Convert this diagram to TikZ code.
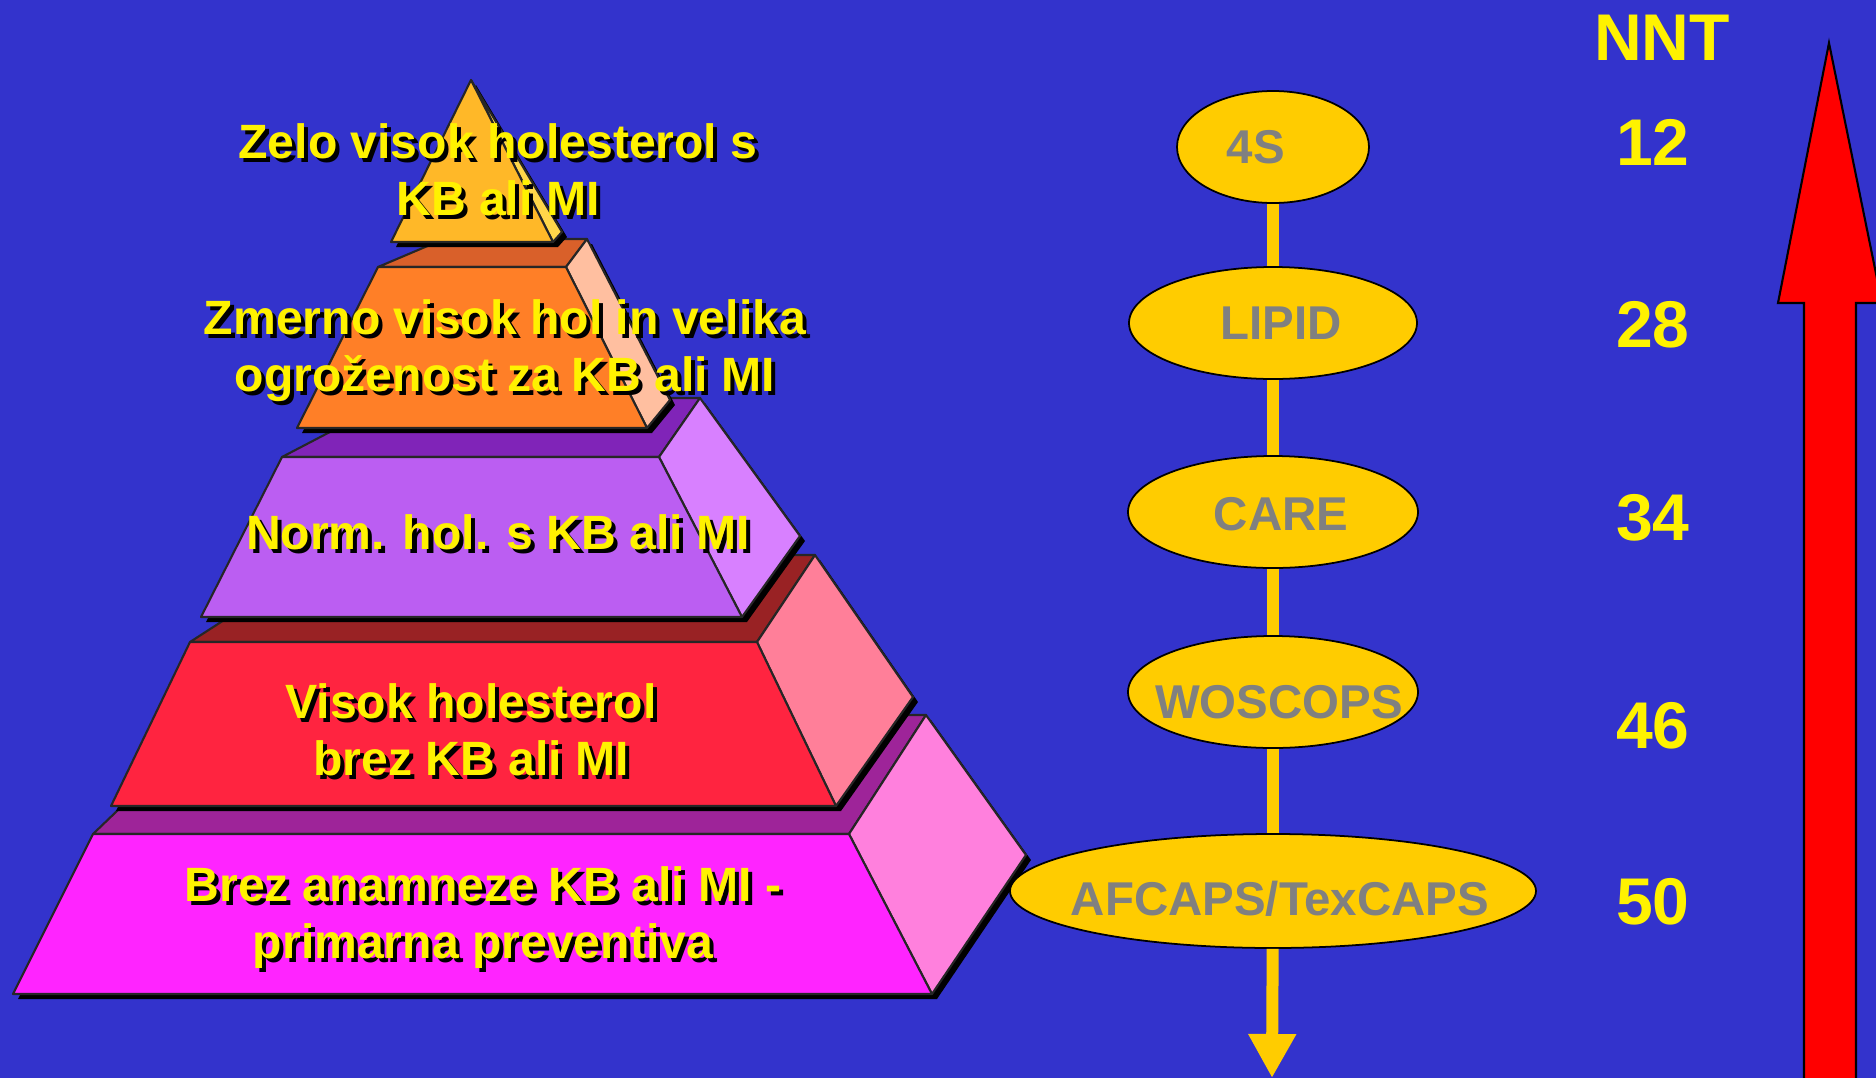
\documentclass[tikz,border=0pt]{standalone}
\usepackage{fontspec}
\setmainfont{Liberation Sans}
\usetikzlibrary{shapes.geometric,arrows.meta}

\definecolor{bgblue}{RGB}{51,51,204}
\definecolor{lonefront}{RGB}{255,184,40}
\definecolor{loneside}{RGB}{255,214,74}
\definecolor{ltwotop}{RGB}{217,96,42}
\definecolor{ltwofront}{RGB}{255,127,39}
\definecolor{ltwoside}{RGB}{255,191,160}
\definecolor{lthreetop}{RGB}{128,36,184}
\definecolor{lthreefront}{RGB}{187,94,242}
\definecolor{lthreeside}{RGB}{216,128,255}
\definecolor{lfourtop}{RGB}{153,34,36}
\definecolor{lfourfront}{RGB}{255,36,64}
\definecolor{lfourside}{RGB}{255,127,153}
\definecolor{lfivetop}{RGB}{158,36,153}
\definecolor{lfivefront}{RGB}{255,36,255}
\definecolor{lfiveside}{RGB}{255,128,221}
\definecolor{studyyellow}{RGB}{255,204,0}
\definecolor{studygray}{RGB}{128,128,128}

\begin{document}
\begin{tikzpicture}[
    x=0.1mm, y=-0.1mm,
    face/.style={draw=black!85, line width=0.6pt, line join=round},
    drop/.style={fill=black, shift={(5,5)}},
    lbl/.style={text=yellow, font=\bfseries\fontsize{13.7}{16.2}\selectfont, align=center},
    lblshadow/.style={lbl, text=black, xshift=0.4mm, yshift=-0.4mm},
    study/.style={ellipse, draw=black, line width=0.5pt, fill=studyyellow, inner sep=0pt, minimum height=11.2mm},
    studytext/.style={text=studygray, font=\bfseries\fontsize{13.5}{16}\selectfont},
    nnt/.style={text=yellow, font=\bfseries\fontsize{18.8}{22}\selectfont},
    link/.style={draw=studyyellow, line width=1.2mm}
]
\fill[bgblue] (0,0) rectangle (1876,1078);
\useasboundingbox (0,0) rectangle (1876,1078);

% pyramid, bottom layer first
\fill[drop] (13,994) -- (93,834) -- (217,715) -- (926,715) -- (1026,855) -- (932,994) -- cycle;
\filldraw[face, fill=lfivetop] (93,834) -- (217,715) -- (926,715) -- (849,834) -- cycle;
\filldraw[face, fill=lfiveside] (849,834) -- (926,715) -- (1026,855) -- (932,994) -- cycle;
\filldraw[face, fill=lfivefront] (93,834) -- (849,834) -- (932,994) -- (13,994) -- cycle;

\fill[drop] (111,806) -- (190,642) -- (325,555) -- (815,555) -- (913,697) -- (836,806) -- cycle;
\filldraw[face, fill=lfourtop] (190,642) -- (325,555) -- (815,555) -- (757,642) -- cycle;
\filldraw[face, fill=lfourside] (757,642) -- (815,555) -- (913,697) -- (836,806) -- cycle;
\filldraw[face, fill=lfourfront] (190,642) -- (757,642) -- (836,806) -- (111,806) -- cycle;

\fill[drop] (201,617) -- (282,457) -- (395,398) -- (700,398) -- (800,536) -- (742,617) -- cycle;
\filldraw[face, fill=lthreetop] (282,457) -- (395,398) -- (700,398) -- (659,457) -- cycle;
\filldraw[face, fill=lthreeside] (659,457) -- (700,398) -- (800,536) -- (742,617) -- cycle;
\filldraw[face, fill=lthreefront] (282,457) -- (659,457) -- (742,617) -- (201,617) -- cycle;

\fill[drop] (297,428) -- (378,267) -- (444,239) -- (587,239) -- (670,400) -- (647,428) -- cycle;
\filldraw[face, fill=ltwotop] (378,267) -- (444,239) -- (587,239) -- (566,267) -- cycle;
\filldraw[face, fill=ltwoside] (566,267) -- (587,239) -- (670,400) -- (647,428) -- cycle;
\filldraw[face, fill=ltwofront] (378,267) -- (566,267) -- (647,428) -- (297,428) -- cycle;

\fill[drop] (391,242) -- (471,80) -- (562,232) -- (553,242) -- cycle;
\filldraw[face, fill=loneside] (471,80) -- (562,232) -- (553,242) -- cycle;
\filldraw[face, fill=lonefront] (471,80) -- (553,242) -- (391,242) -- cycle;

\node[lblshadow] (zelo-sh) at (498,170) {Zelo visok holesterol s\\KB ali MI};
\node[lbl] (zelo) at (498,170) {Zelo visok holesterol s\\KB ali MI};
\node[lblshadow] (zmerno-sh) at (505,351) {Zmerno visok hol in velika\\ogroženost za KB ali MI};
\node[lbl] (zmerno) at (505,351) {Zmerno visok hol in velika\\ogroženost za KB ali MI};
\node[lblshadow] (norm-sh) at (498,532) {Norm. hol. s KB ali MI};
\node[lbl] (norm) at (498,532) {Norm. hol. s KB ali MI};
\node[lblshadow] (visok-sh) at (471,730) {Visok holesterol\\brez KB ali MI};
\node[lbl] (visok) at (471,730) {Visok holesterol\\brez KB ali MI};
\node[lblshadow] (brez-sh) at (483,918) {Brez anamneze KB ali MI -\\primarna preventiva};
\node[lbl] (brez) at (483,918) {Brez anamneze KB ali MI -\\primarna preventiva};

% studies
\node[study, minimum width=19.2mm] (s4) at (1273,147) {};
\node[study, minimum width=28.8mm] (lipid) at (1273,323) {};
\node[study, minimum width=29mm] (care) at (1273,512) {};
\node[study, minimum width=29mm] (woscops) at (1273,692) {};
\node[study, minimum width=52.6mm, minimum height=11.4mm] (afcaps) at (1273,891) {};
\coordinate (down) at (1272,1078);

\node[studytext] (s4-t) at (1256,147) {4S};
\node[studytext] (lipid-t) at (1281,323) {LIPID};
\node[studytext] (care-t) at (1281,514) {CARE};
\node[studytext] (woscops-t) at (1279,702) {WOSCOPS};
\node[studytext] (afcaps-t) at (1280,899) {AFCAPS/TexCAPS};

\draw[link] (s4) -- (lipid);
\draw[link] (lipid) -- (care);
\draw[link] (care) -- (woscops);
\draw[link] (woscops) -- (afcaps);
\draw[link, -{Triangle[width=4.5mm, length=4.4mm]}] (afcaps) -- (down);

% NNT column
\node[nnt] (nnt) at (1662,38) {NNT};
\node[nnt] (n12) at (1653,142) {12};
\node[nnt] (n28) at (1653,325) {28};
\node[nnt] (n34) at (1653,518) {34};
\node[nnt] (n46) at (1653,726) {46};
\node[nnt] (n50) at (1653,902) {50};

\begin{scope}
\clip (0,0) rectangle (1876,1078);
\filldraw[fill=red, draw=black, line width=0.6pt] (1804,1090) -- (1804,303) -- (1778,303) -- (1829,43) -- (1882,303) -- (1856,303) -- (1856,1090) -- cycle;
\end{scope}
\end{tikzpicture}
\end{document}
